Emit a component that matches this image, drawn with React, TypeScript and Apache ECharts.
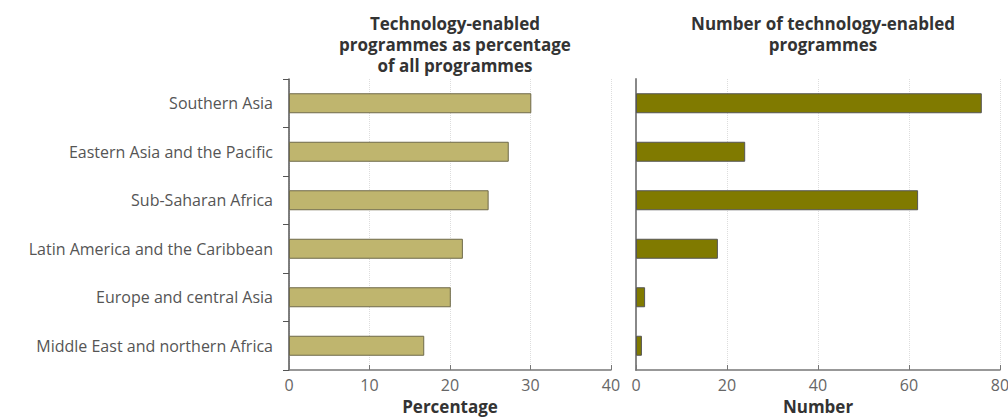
import React, { useEffect, useRef } from "react";
import * as echarts from "echarts";

const regions = [
  "Southern Asia",
  "Eastern Asia and the Pacific",
  "Sub-Saharan Africa",
  "Latin America and the Caribbean",
  "Europe and central Asia",
  "Middle East and northern Africa",
];
const percentValues = [30.1, 27.3, 24.8, 21.6, 20.1, 16.8];
const numberValues = [76, 24, 62, 18, 2, 1.3];
const leftTitle = "Technology-enabled\nprogrammes as percentage\nof all programmes";
const rightTitle = "Number of technology-enabled\nprogrammes";

const FONT = "'Open Sans', 'Noto Sans', sans-serif";

export default function App() {
  const ref = useRef<HTMLDivElement>(null);
  useEffect(() => {
    if (!ref.current) return;
    const chart = echarts.init(ref.current, undefined, { renderer: "svg" });
    const axisLabel = { color: "#666", fontSize: 16, fontFamily: FONT, margin: 7 };
    const splitLine = { show: true, lineStyle: { color: "#ddd", type: "dotted" as const, width: 1 } };
    const titleStyle = { fontFamily: FONT, fontWeight: "bold" as const, fontSize: 17, color: "#333", lineHeight: 21 };
    const nameStyle = { fontFamily: FONT, fontWeight: "bold" as const, fontSize: 17, color: "#333" };
    chart.setOption({
      animation: false,
      backgroundColor: "#fff",
      title: [
        { text: leftTitle, left: 450, top: 8, textAlign: "center", textStyle: titleStyle },
        { text: rightTitle, left: 818, top: 8, textAlign: "center", textStyle: titleStyle },
      ],
      grid: [
        { left: 289, right: 397, top: 79, bottom: 47, containLabel: false, outerBoundsMode: "none" },
        { left: 636, right: 8, top: 79, bottom: 47, containLabel: false, outerBoundsMode: "none" },
      ],
      xAxis: [
        {
          gridIndex: 0,
          type: "value",
          min: 0,
          max: 40,
          interval: 10,
          name: "Percentage",
          nameLocation: "middle",
          nameGap: 28,
          nameTextStyle: nameStyle,
          axisLine: { show: true, lineStyle: { color: "#777", width: 1.5 } },
          axisTick: { show: true, inside: true, length: 5, lineStyle: { color: "#777" } },
          axisLabel,
          splitLine,
        },
        {
          gridIndex: 1,
          type: "value",
          min: 0,
          max: 80,
          interval: 20,
          name: "Number",
          nameLocation: "middle",
          nameGap: 28,
          nameTextStyle: nameStyle,
          axisLine: { show: true, lineStyle: { color: "#777", width: 1.5 } },
          axisTick: { show: true, inside: true, length: 5, lineStyle: { color: "#777" } },
          axisLabel,
          splitLine,
        },
      ],
      yAxis: [
        {
          gridIndex: 0,
          type: "category",
          data: regions,
          inverse: true,
          axisLine: { show: true, lineStyle: { color: "#555", width: 1.5 } },
          axisTick: { show: true, length: 6, lineStyle: { color: "#555" } },
          axisLabel: { color: "#555", fontSize: 16, fontFamily: FONT, margin: 16 },
          splitLine: { show: false },
        },
        {
          gridIndex: 1,
          type: "category",
          data: regions,
          inverse: true,
          axisLine: { show: true, lineStyle: { color: "#888", width: 2 } },
          axisTick: { show: false },
          axisLabel: { show: false },
          splitLine: { show: false },
        },
      ],
      series: [
        {
          type: "bar",
          xAxisIndex: 0,
          yAxisIndex: 0,
          data: percentValues,
          barWidth: 20,
          itemStyle: { color: "#BFB56E", borderColor: "#6f6a4a", borderWidth: 1 },
        },
        {
          type: "bar",
          xAxisIndex: 1,
          yAxisIndex: 1,
          data: numberValues,
          barWidth: 20,
          itemStyle: { color: "#807A00", borderColor: "#555", borderWidth: 1 },
        },
      ],
    });
    return () => chart.dispose();
  }, []);
  return <div ref={ref} style={{ width: 1008, height: 417, position: "absolute", left: 0, top: 0 }} />;
}
